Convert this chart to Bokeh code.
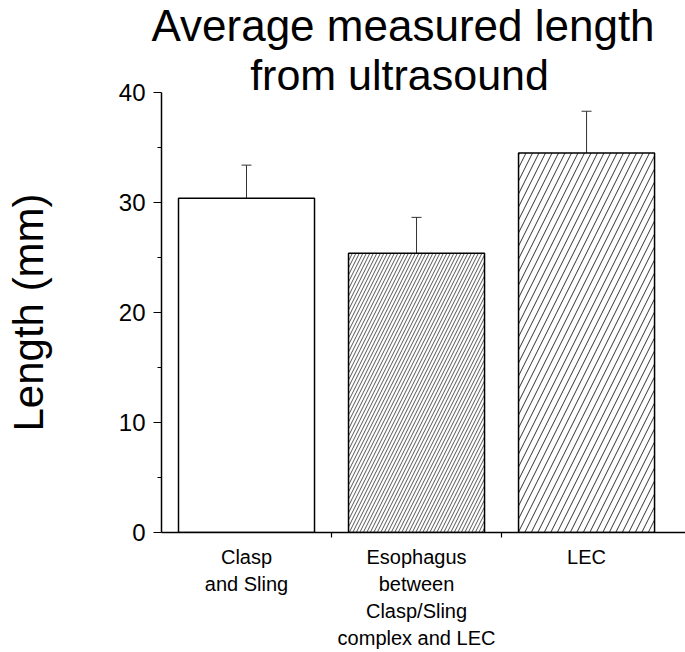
from bokeh.plotting import figure
from bokeh.models import Range1d, FixedTicker, ColumnDataSource, Whisker, Title, TeeHead
from bokeh.core.properties import value
from bokeh.embed import file_html
from bokeh.resources import INLINE

# ---- data ----
categories = ["Clasp\nand Sling",
              "Esophagus\nbetween\nClasp/Sling\ncomplex and LEC",
              "LEC"]
means = [30.4, 25.4, 34.5]
errors = [3.0, 3.25, 3.8]
hatches = [" ", "/", "/"]
hatch_scales = [7, 7, 13]
hatch_colors = ["#555555", "#555555", "#333333"]
y_ticks = [0, 10, 20, 30, 40]
y_minor = [5, 15, 25, 35]
title_lines = ["Average measured length", "from ultrasound"]
y_label = "Length (mm)"

FONT = "Liberation Sans"

xs = [i + 0.5 for i in range(len(categories))]
src = ColumnDataSource(dict(
    x=xs, top=means,
    upper=[m + e for m, e in zip(means, errors)],
    lower=[m - e for m, e in zip(means, errors)],
    hatch=hatches, hs=hatch_scales, hc=hatch_colors,
))

p = figure(width=685, height=652, output_backend="svg", toolbar_location=None,
           x_range=Range1d(0, 3.082), y_range=Range1d(0, 44.55),
           min_border_left=161, min_border_right=0, min_border_top=42,
           min_border_bottom=120)
p.outline_line_color = None
p.grid.visible = False
p.background_fill_color = "white"

p.vbar(x="x", top="top", width=0.8, source=src, fill_color="white",
       line_color="black", line_width=1.5,
       hatch_pattern="hatch", hatch_scale="hs", hatch_color="hc",
       hatch_weight=1)

wh = Whisker(base="x", upper="upper", lower="lower", source=src,
             line_color="#333333", line_width=1)
wh.upper_head = TeeHead(size=10, line_color="#333333", line_width=1)
wh.lower_head = TeeHead(size=10, line_color="#333333", line_width=1)
p.add_layout(wh)

# y axis
ya = p.yaxis[0]
ya.ticker = FixedTicker(ticks=y_ticks, minor_ticks=y_minor)
ya.bounds = (0, 40)
ya.axis_line_width = 1.5
ya.axis_line_color = "black"
ya.major_tick_in = 0
ya.major_tick_out = 8
ya.minor_tick_in = 0
ya.minor_tick_out = 4
ya.major_tick_line_width = 1.2
ya.minor_tick_line_width = 1.2
ya.major_label_text_font = FONT
ya.major_label_text_font_size = "24px"
ya.major_label_text_color = "black"
ya.major_label_standoff = 8
ya.axis_label = " "
ya.axis_label_text_font_size = "10px"
ya.axis_label_standoff = 48

# x axis
xa = p.xaxis[0]
xa.ticker = FixedTicker(ticks=xs, minor_ticks=[1, 2])
xa.major_label_overrides = {x: c for x, c in zip(xs, categories)}
xa.axis_line_width = 1.5
xa.axis_line_color = "black"
xa.major_tick_in = 0
xa.major_tick_out = 0
xa.minor_tick_in = 0
xa.minor_tick_out = 5
xa.minor_tick_line_width = 1.2
xa.major_label_text_font = FONT
xa.major_label_text_font_size = "20px"
xa.major_label_text_line_height = 1.24
xa.major_label_text_color = "black"
xa.major_label_standoff = 8

# title: first line in the panel above, second line inside the frame
p.add_layout(Title(text=title_lines[0], align="left", offset=-10,
                   vertical_align="bottom", standoff=-14,
                   text_font=FONT, text_font_size="44px",
                   text_font_style="normal", text_color="black"), "above")
p.text(x=[1.40], y=[41.6], text=title_lines[1:],
       text_font=value(FONT), text_font_size="43px", text_align="center",
       text_baseline="alphabetic", text_color="black")

# y axis label as a side title
p.add_layout(Title(text=y_label, align="left", offset=101, vertical_align="top",
                   standoff=0, text_font=FONT, text_font_size="42px",
                   text_font_style="normal", text_color="black"), "left")

open("out.html", "w").write(file_html(p, INLINE))
